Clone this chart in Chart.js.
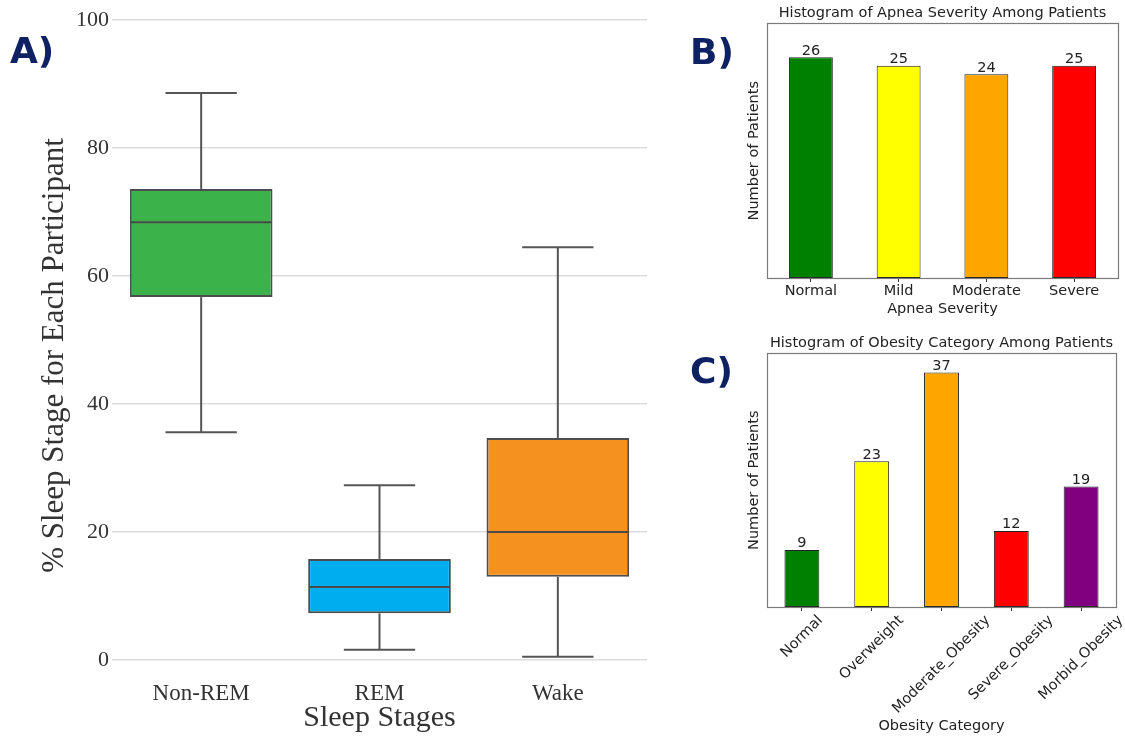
<!DOCTYPE html>
<html>
<head>
<meta charset="utf-8">
<script src="https://cdn.jsdelivr.net/npm/chart.js@4/dist/chart.umd.min.js"></script>
<style>
  html,body{margin:0;padding:0;background:#fff;}
  body{width:1125px;height:736px;position:relative;overflow:hidden;}
  canvas{position:absolute;}
  .plabel{position:absolute;font-family:"DejaVu Sans",sans-serif;font-weight:bold;font-size:36px;line-height:36px;color:#0e2162;}
</style>
</head>
<body>
<canvas id="cA" width="660" height="736" style="left:0;top:0;"></canvas>
<canvas id="cB" width="445" height="320" style="left:680px;top:0;"></canvas>
<canvas id="cC" width="445" height="416" style="left:680px;top:320px;"></canvas>
<div class="plabel" style="left:10px;top:33px;">A)</div>
<div class="plabel" style="left:690px;top:34px;">B)</div>
<div class="plabel" style="left:690px;top:353px;">C)</div>
<script>
// ---- Panel A data (box plot) ----
const stages = ['Non-REM', 'REM', 'Wake'];
const whiskerLow  = [35.6, 1.6, 0.5];
const q1          = [56.7, 7.3, 13.0];
const median      = [68.4, 11.4, 20.0];
const q3          = [73.6, 15.8, 34.7];
const whiskerHigh = [88.6, 27.3, 64.5];
const stageColors = ['#3bb34a', '#00adee', '#f5921f'];
const yTicksA = [0, 20, 40, 60, 80, 100];

// ---- Panel B data ----
const apneaCats = ['Normal', 'Mild', 'Moderate', 'Severe'];
const apneaCounts = [26, 25, 24, 25];
const apneaColors = ['#008000', '#ffff00', '#ffa500', '#ff0000'];

// ---- Panel C data ----
const obesityCats = ['Normal', 'Overweight', 'Moderate_Obesity', 'Severe_Obesity', 'Morbid_Obesity'];
const obesityCounts = [9, 23, 37, 12, 19];
const obesityColors = ['#008000', '#ffff00', '#ffa500', '#ff0000', '#800080'];

const SERIF = '"Liberation Serif", "Times New Roman", serif';
const SANS = '"DejaVu Sans", sans-serif';
const FS = 14.5;

// ---------- Panel A ----------
const boxPlugin = {
  id: 'boxParts',
  afterDatasetsDraw(chart) {
    const meta = chart.getDatasetMeta(0);
    const ys = chart.scales.y;
    const ctx = chart.ctx;
    ctx.save();
    ctx.strokeStyle = '#555555';
    ctx.lineWidth = 2;
    const line = (x1, y1, x2, y2) => { ctx.beginPath(); ctx.moveTo(x1, y1); ctx.lineTo(x2, y2); ctx.stroke(); };
    meta.data.forEach((bar, i) => {
      const x = bar.x, w = bar.width;
      const yLo = ys.getPixelForValue(whiskerLow[i]);
      const yQ1 = ys.getPixelForValue(q1[i]);
      const yMed = ys.getPixelForValue(median[i]);
      const yQ3 = ys.getPixelForValue(q3[i]);
      const yHi = ys.getPixelForValue(whiskerHigh[i]);
      line(x, yQ3, x, yHi);
      line(x, yQ1, x, yLo);
      line(x - w / 4, yHi, x + w / 4, yHi);
      line(x - w / 4, yLo, x + w / 4, yLo);
      ctx.strokeStyle = '#4a4a4a';
      line(x - w / 2 + 1, yMed, x + w / 2 - 1, yMed);
      ctx.strokeStyle = '#555555';
    });
    ctx.restore();
  }
};

new Chart(document.getElementById('cA'), {
  type: 'bar',
  data: {
    labels: stages,
    datasets: [{
      data: stages.map((s, i) => [q1[i], q3[i]]),
      backgroundColor: stageColors,
      borderColor: '#4d4d4d',
      borderWidth: 2,
      borderSkipped: false,
      categoryPercentage: 1,
      barPercentage: 0.8
    }]
  },
  options: {
    responsive: false,
    animation: false,
    devicePixelRatio: 1,
    layout: { padding: { top: 20, right: 13, left: 32, bottom: 0 } },
    plugins: { legend: { display: false }, tooltip: { enabled: false } },
    scales: {
      x: {
        grid: { display: false },
        border: { display: false },
        ticks: { font: { family: SERIF, size: 23 }, color: '#333', padding: 12 },
        title: { display: true, text: 'Sleep Stages', font: { family: SERIF, size: 30 }, color: '#333', padding: { top: 0, bottom: 0 } },
        afterFit(scale) { scale.height = 76; }
      },
      y: {
        min: 0, max: 100,
        afterBuildTicks(scale) { scale.ticks = yTicksA.map(v => ({ value: v })); },
        grid: { color: '#dcdcdc', lineWidth: 1.5, drawTicks: false },
        border: { display: false },
        ticks: { font: { family: SERIF, size: 22 }, color: '#333', padding: 3 },
        title: { display: true, text: '% Sleep Stage for Each Participant    ', font: { family: SERIF, size: 31 }, color: '#333' },
        afterFit(scale) { scale.width = 80; }
      }
    }
  },
  plugins: [boxPlugin]
});

// ---------- Shared for B and C ----------
const framePlugin = {
  id: 'frame',
  afterDraw(chart) {
    const a = chart.chartArea, ctx = chart.ctx;
    ctx.save();
    ctx.strokeStyle = '#7a7a7a';
    ctx.lineWidth = 1.2;
    ctx.strokeRect(Math.round(a.left) + 0.5, Math.round(a.top) + 0.5, Math.round(a.right - a.left), Math.round(a.bottom - a.top));
    ctx.restore();
  }
};
const valueLabelPlugin = {
  id: 'valueLabels',
  afterDatasetsDraw(chart) {
    const meta = chart.getDatasetMeta(0);
    const vals = chart.data.datasets[0].data;
    const ctx = chart.ctx;
    ctx.save();
    ctx.font = FS + 'px ' + SANS;
    ctx.fillStyle = '#222';
    ctx.textAlign = 'center';
    ctx.textBaseline = 'bottom';
    meta.data.forEach((bar, i) => ctx.fillText(String(vals[i]), bar.x, bar.y + 1));
    ctx.restore();
  }
};

function barOptions(opts) {
  return {
    responsive: false,
    animation: false,
    devicePixelRatio: 1,
    layout: { padding: { top: 0, right: opts.right, left: 62, bottom: 0 } },
    plugins: {
      legend: { display: false },
      tooltip: { enabled: false },
      title: { display: true, fullSize: false, text: opts.title, font: { family: SANS, size: FS, weight: 'normal' }, color: '#222', padding: opts.titlePad }
    },
    scales: {
      x: {
        grid: { display: true, drawOnChartArea: false, drawTicks: true, tickLength: 4, offset: false, color: '#333' },
        border: { display: false },
        ticks: { display: opts.xTicks, font: { family: SANS, size: FS }, color: '#222', padding: 1, maxRotation: 0 },
        title: { display: true, text: opts.xTitle, font: { family: SANS, size: FS }, color: '#222', padding: opts.xTitlePad },
        afterFit(scale) { scale.height = opts.xHeight; }
      },
      y: {
        min: 0, max: opts.yMax,
        grid: { display: false },
        border: { display: false },
        ticks: { display: false },
        title: { display: true, text: 'Number of Patients', font: { family: SANS, size: FS }, color: '#222' },
        afterFit(scale) { scale.width = 25; }
      }
    }
  };
}

// ---------- Panel B ----------
new Chart(document.getElementById('cB'), {
  type: 'bar',
  data: {
    labels: apneaCats,
    datasets: [{
      data: apneaCounts,
      backgroundColor: apneaColors,
      borderColor: '#222',
      borderWidth: 1,
      borderSkipped: false,
      categoryPercentage: 1,
      barPercentage: 0.5
    }]
  },
  options: barOptions({
    title: 'Histogram of Apnea Severity Among Patients',
    titlePad: { top: 5, bottom: 1 },
    right: 7, yMax: 30, xTicks: true, xHeight: 42,
    xTitle: 'Apnea Severity', xTitlePad: { top: 0, bottom: 2 }
  }),
  plugins: [framePlugin, valueLabelPlugin]
});

// ---------- Panel C ----------
const rotatedLabelPlugin = {
  id: 'rotLabels',
  afterDraw(chart) {
    const xs = chart.scales.x;
    const ctx = chart.ctx;
    const fs = FS;
    ctx.save();
    ctx.font = fs + 'px ' + SANS;
    ctx.fillStyle = '#222';
    ctx.textAlign = 'center';
    ctx.textBaseline = 'middle';
    const c = Math.SQRT1_2;
    chart.data.labels.forEach((lab, i) => {
      const w = ctx.measureText(lab).width;
      const h = fs;
      const bb = (w + h) * c;
      const cx = xs.getPixelForTick(i);
      const cy = chart.chartArea.bottom + 6 + bb / 2;
      ctx.save();
      ctx.translate(cx, cy);
      ctx.rotate(-Math.PI / 4);
      ctx.fillText(lab, 0, 0);
      ctx.restore();
    });
    ctx.restore();
  }
};

new Chart(document.getElementById('cC'), {
  type: 'bar',
  data: {
    labels: obesityCats,
    datasets: [{
      data: obesityCounts,
      backgroundColor: obesityColors,
      borderColor: '#222',
      borderWidth: 1,
      borderSkipped: false,
      categoryPercentage: 1,
      barPercentage: 0.5
    }]
  },
  options: barOptions({
    title: 'Histogram of Obesity Category Among Patients',
    titlePad: { top: 15, bottom: 1 },
    right: 9, yMax: 40, xTicks: false, xHeight: 129,
    xTitle: 'Obesity Category', xTitlePad: { top: 0, bottom: 1 }
  }),
  plugins: [framePlugin, valueLabelPlugin, rotatedLabelPlugin]
});
</script>
</body>
</html>
